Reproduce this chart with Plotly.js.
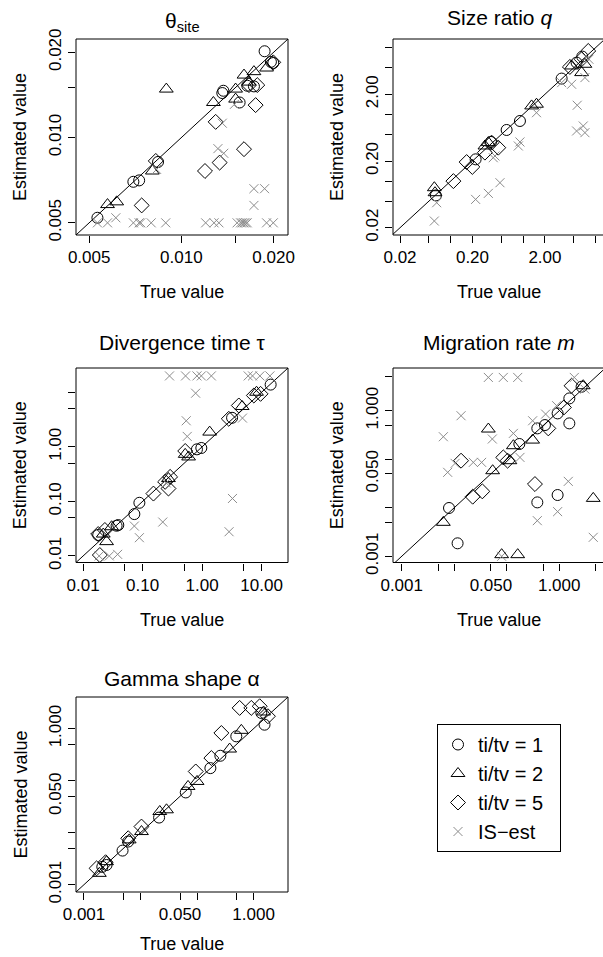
<!DOCTYPE html>
<html><head><meta charset="utf-8">
<script src="https://cdn.plot.ly/plotly-3.0.1.min.js"></script>
<style>html,body{margin:0;padding:0;background:#fff}#chart{width:603px;height:957px}</style>
</head><body><div id="chart"></div>
<script>
// ---------- DATA (true value, estimated value) ----------
// Panel 1: theta_site
var theta_c_true = [0.00532,0.00697,0.00728,0.00839,0.0136,0.01371,0.01549,0.01641,0.01725,0.01869,0.0196,0.01995];
var theta_c_est  = [0.00521,0.00698,0.00706,0.0082,0.01436,0.01463,0.0133,0.01524,0.01516,0.02017,0.0185,0.01833];
var theta_t_true = [0.00574,0.00615,0.00804,0.00893,0.01272,0.01503,0.01503,0.01601,0.01725,0.01897,0.01662];
var theta_t_est  = [0.0058,0.00593,0.00762,0.01483,0.0133,0.01483,0.01367,0.01662,0.01709,0.0176,0.0157];
var theta_d_true = [0.00742,0.00825,0.01194,0.01294,0.01333,0.01601,0.01747,0.01662,0.01769,0.01995];
var theta_d_est  = [0.00576,0.00827,0.00762,0.01136,0.00816,0.0091,0.01302,0.01532,0.01532,0.01843];
var theta_x_true = [0.00532,0.00574,0.00697,0.00728,0.00737,0.00797,0.00889,0.0120,0.01278,0.01326,0.0152,0.0156,0.0158,0.0160,0.0162,0.0164,0.01897,0.01995,0.00611,0.0083,0.01316,0.01375,0.0136,0.01725,0.01869,0.01725,0.0149];
var theta_x_est  = [0.005,0.005,0.005,0.005,0.005,0.005,0.005,0.005,0.005,0.005,0.005,0.005,0.005,0.005,0.005,0.005,0.005,0.005,0.00521,0.00772,0.00914,0.0088,0.01124,0.0066,0.0066,0.00576,0.0131];

// Panel 2: size ratio q
var q_c_true = [0.0625,0.221,0.592,0.904,3.40,5.47,6.55,0.36];
var q_c_est  = [0.061,0.212,0.584,0.796,3.44,5.97,7.35,0.386];
var q_t_true = [0.0595,0.0608,0.331,1.31,1.53,4.67,6.41,7.13,0.297];
var q_t_est  = [0.0796,0.067,0.377,1.34,1.42,5.32,4.23,5.64,0.336];
var q_d_true = [0.109,0.166,0.199,0.297,0.367,0.454,4.42,6.41,7.92];
var q_d_est  = [0.1,0.193,0.163,0.267,0.377,0.317,5.14,6.70,8.93];
var q_x_true = [0.0595,0.0641,0.221,0.331,0.479,0.387,0.409,0.858,0.904,1.53,3.40,4.67,5.58,5.47,6.76,7.13,8.09,7.13];
var q_x_est  = [0.0252,0.0474,0.0532,0.0655,0.0946,0.224,0.238,0.336,0.386,1.06,2.99,2.83,1.37,0.564,0.67,0.532,6.70,3.56];

// Panel 3: divergence time tau
var tau_c_true = [0.0179,0.0365,0.039,0.0726,0.0882,0.819,0.970,3.19,14.2];
var tau_c_est  = [0.0242,0.0358,0.0368,0.0585,0.0942,0.899,0.951,3.40,13.8];
var tau_t_true = [0.0248,0.0218,0.0301,0.272,0.52,0.593,1.34,4.71,8.22];
var tau_t_est  = [0.0183,0.0252,0.0343,0.262,0.728,0.652,1.86,5.48,10];
var tau_d_true = [0.0191,0.0179,0.0232,0.152,0.239,0.29,0.272,0.52,2.81,4.14,7.41,9.61];
var tau_d_est  = [0.0104,0.0252,0.0299,0.139,0.228,0.281,0.172,0.838,3.26,5.72,8.71,9.34];
var tau_x_true = [0.283,0.527,0.819,0.97,1.43,5.95,7.04,9.36,13.8,0.778,0.541,0.562,4.77,3.24,2.84,0.218,0.0726,0.0882,0.038,0.0275,0.0186,0.249];
var tau_x_est  = [19.9,19.9,19.9,19.9,19.9,19.9,19.9,19.9,19.9,9.6,3.0,1.55,3.36,0.113,0.0278,0.0418,0.0353,0.0216,0.0107,0.01,0.01,0.218];

// Panel 4: migration rate m
var m_c_true = [0.00796,0.0116,0.174,0.383,0.535,0.933,1.56,2.67,1.56,0.383,0.933];
var m_c_est  = [0.00989,0.00185,0.206,0.432,0.506,0.88,1.79,3.12,0.548,0.0129,0.0183];
var m_t_true = [0.00621,0.0447,0.054,0.134,0.312,0.0801,0.162,2.87,4.45,0.115];
var m_t_est  = [0.00501,0.419,0.058,0.19,0.248,0.00108,0.00108,3.27,0.0156,0.0933];
var m_d_true = [0.0135,0.0225,0.0343,0.0861,0.104,0.345,0.62,1.23,1.72];
var m_d_est  = [0.0933,0.0169,0.0218,0.109,0.0933,0.0308,0.432,1.17,3.27];
var m_x_true = [0.0447,0.0861,0.162,1.94,0.00621,0.0135,0.00751,0.0104,0.0231,0.0333,0.0532,0.134,0.312,0.551,0.893,1.49,0.933,0.383,4.45,0.0801,0.179,3.09];
var m_x_est  = [4.85,4.85,4.85,4.85,0.291,0.788,0.0537,0.0822,0.0861,0.0861,0.261,0.341,0.621,0.852,1.27,0.035,0.00832,0.00542,0.00246,0.001,0.109,2.79];

// Panel 5: gamma shape alpha
var a_c_true = [0.00211,0.00251,0.00481,0.00606,0.0213,0.0631,0.172,0.258,0.494,1.37,1.56];
var a_c_est  = [0.0022,0.00239,0.00452,0.00674,0.0195,0.0593,0.174,0.301,0.711,2.0,1.19];
var a_t_true = [0.00187,0.00251,0.00631,0.0104,0.0219,0.0288,0.0693,0.1,0.377,0.606,1.5];
var a_t_est  = [0.00165,0.00277,0.00726,0.0105,0.0255,0.0275,0.0773,0.0965,0.405,0.927,2.09];
var a_d_true = [0.00167,0.00241,0.00606,0.0104,0.0947,0.179,0.269,0.566,0.909,1.28,1.79];
var a_d_est  = [0.00206,0.0027,0.0078,0.0131,0.15,0.272,0.824,2.5,2.5,2.69,1.73];

// Tick values and labels
var theta_ticks = [0.005,0.010,0.015,0.020];
var theta_xlab  = ['0.005','0.010','','0.020'];
var theta_ylab  = ['0.005','0.010','','0.020'];
var q_ticks = [0.02,0.05,0.1,0.2,0.5,1,2,5,10];
var q_xlab  = ['0.02','','','0.20','','','2.00','',''];
var q_ylab  = ['0.02','','','0.20','','','2.00','',''];
var tau_ticks = [0.01,0.05,0.1,0.5,1,5,10];
var tau_xlab  = ['0.01','','0.10','','1.00','','10.00'];
var tau_ylab  = ['0.01','','0.10','','1.00','',''];
var m_ticks = [0.001,0.005,0.01,0.05,0.1,0.5,1,5];
var m_xlab  = ['0.001','','','0.050','','','1.000',''];
var m_ylab  = ['0.001','','','0.050','','','1.000',''];
var a_ticks = [0.001,0.005,0.01,0.05,0.1,0.5,1];
var a_xlab  = ['0.001','','','0.050','','','1.000'];
var a_ylab  = ['0.001','','','0.050','','','1.000'];

var seriesNames = ['ti/tv = 1','ti/tv = 2','ti/tv = 5','IS\u2212est'];
var identityLine = [1e-6, 1e4];

// ---------- LAYOUT ----------
var W = 603, H = 957;
var FONT = 'Liberation Sans, Arial, Helvetica, sans-serif';
var panels = [
  {title:'\u03b8<sub>site</sub>', box:[76,39,288,235], xr:[-2.344,-1.652], yr:[-2.344,-1.652], ticks:theta_ticks, xl:theta_xlab, yl:theta_ylab, titleY:22, xtY:292,
   data:[[theta_c_true,theta_c_est],[theta_t_true,theta_t_est],[theta_d_true,theta_d_est],[theta_x_true,theta_x_est]]},
  {title:'Size ratio <i>q</i>', box:[393,39,605.5,235], xr:[-1.796,1.137], yr:[-1.808,1.130], ticks:q_ticks, xl:q_xlab, yl:q_ylab, titleY:18, xtY:292,
   data:[[q_c_true,q_c_est],[q_t_true,q_t_est],[q_d_true,q_d_est],[q_x_true,q_x_est]]},
  {title:'Divergence time \u03c4', box:[76,368,288,562.5], xr:[-2.12,1.444], yr:[-2.12,1.444], ticks:tau_ticks, xl:tau_xlab, yl:tau_ylab, titleY:342, xtY:620,
   data:[[tau_c_true,tau_c_est],[tau_t_true,tau_t_est],[tau_d_true,tau_d_est],[tau_x_true,tau_x_est]]},
  {title:'Migration rate <i>m</i>', box:[393,368,605.4,562.5], xr:[-3.166,0.880], yr:[-3.128,0.880], ticks:m_ticks, xl:m_xlab, yl:m_ylab, titleY:342, xtY:620,
   data:[[m_c_true,m_c_est],[m_t_true,m_t_est],[m_d_true,m_d_est],[m_x_true,m_x_est]]},
  {title:'Gamma shape \u03b1', box:[76,697,288,892], xr:[-3.141,0.608], yr:[-3.141,0.608], ticks:a_ticks, xl:a_xlab, yl:a_ylab, titleY:678, xtY:944,
   data:[[a_c_true,a_c_est],[a_t_true,a_t_est],[a_d_true,a_d_est]]}
];

var styles = [
  {symbol:'circle-open', size:11, color:'#000'},
  {symbol:'triangle-up-open', size:12, color:'#000'},
  {symbol:'diamond-open', size:11.5, color:'#000'},
  {symbol:'x-thin-open', size:9, color:'#8c8c8c'}
];

var traces = [], layout = {
  width:W, height:H, margin:{l:0,r:0,t:0,b:0}, paper_bgcolor:'#fff', plot_bgcolor:'rgba(0,0,0,0)',
  font:{family:FONT, color:'#000', size:17},
  showlegend:true,
  legend:{x:437/W, y:1-724/H, xanchor:'left', yanchor:'top', bordercolor:'#000', borderwidth:1,
          font:{size:20, family:FONT, color:'#000'}, tracegroupgap:3, bgcolor:'#fff', traceorder:'normal'},
  shapes:[], annotations:[]
};

function px2x(p){return p/W;}
function py2y(p){return 1-p/H;}

panels.forEach(function(p, i){
  var n = i===0 ? '' : String(i+1);
  var left=p.box[0], top=p.box[1], right=p.box[2], bottom=p.box[3];
  var visRight = Math.min(right, W);
  var xr1 = p.xr[0] + (p.xr[1]-p.xr[0])*(visRight-left)/(right-left);
  var common = {type:'log', ticks:'outside', ticklen:7, tickwidth:1, tickcolor:'#000', showgrid:false, zeroline:false, showline:false,
                tickfont:{size:17, family:FONT, color:'#000'}, fixedrange:true, tickmode:'array', tickvals:p.ticks};
  layout['xaxis'+n] = Object.assign({}, common, {domain:[px2x(left), px2x(visRight)], range:[p.xr[0], xr1], ticktext:p.xl, anchor:'y'+n});
  layout['yaxis'+n] = Object.assign({}, common, {domain:[py2y(bottom), py2y(top)], range:p.yr, ticktext:p.yl, anchor:'x'+n, tickangle:-90});
  layout.shapes.push({type:'rect', xref:'paper', yref:'paper', x0:px2x(left), x1:px2x(right), y0:py2y(bottom), y1:py2y(top), line:{color:'#000', width:1}});
  var cx = (left+right)/2;
  layout.annotations.push({xref:'paper', yref:'paper', x:px2x(cx), y:py2y(p.titleY), text:p.title, showarrow:false, xanchor:'center', yanchor:'middle', font:{size:21, family:FONT, color:'#000'}});
  layout.annotations.push({xref:'paper', yref:'paper', x:px2x(cx), y:py2y(p.xtY), text:'True value', showarrow:false, xanchor:'center', yanchor:'middle', font:{size:18, family:FONT, color:'#000'}});
  layout.annotations.push({xref:'paper', yref:'paper', x:px2x(left-56), y:py2y((top+bottom)/2), text:'Estimated value', textangle:-90, showarrow:false, xanchor:'center', yanchor:'middle', font:{size:18, family:FONT, color:'#000'}});
  traces.push({x:identityLine, y:identityLine, mode:'lines', line:{color:'#000', width:1}, xaxis:'x'+n, yaxis:'y'+n, showlegend:false, hoverinfo:'skip'});
  p.data.forEach(function(d, k){
    var s = styles[k];
    traces.push({x:d[0], y:d[1], mode:'markers', xaxis:'x'+n, yaxis:'y'+n, name:seriesNames[k] + '\u00a0\u00a0', legendgroup:'g'+k,
      showlegend: i===0, cliponaxis:false,
      marker:{symbol:s.symbol, size:s.size, color:s.color, line:{color:s.color, width:1}}});
  });
});

Plotly.newPlot('chart', traces, layout, {staticPlot:true, displayModeBar:false});
</script></body></html>
